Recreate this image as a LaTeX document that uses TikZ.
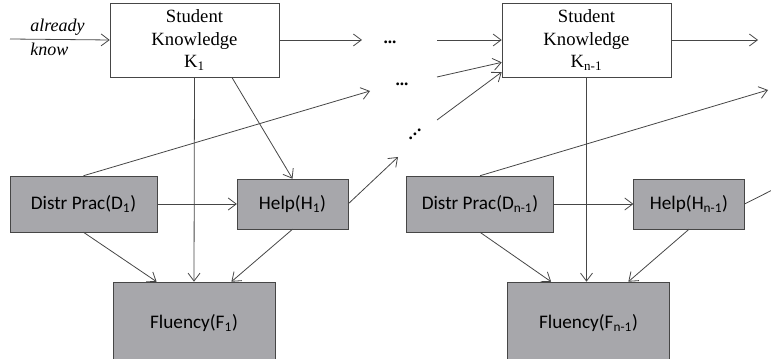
\documentclass[tikz,border=0pt]{standalone}
\usepackage{fontspec}
\setmainfont{Liberation Serif}
\newfontfamily\boxfont{Carlito}
\usetikzlibrary{arrows.meta,calc}
\definecolor{boxgray}{RGB}{167,167,171}
\definecolor{linegray}{RGB}{70,70,70}
\tikzset{%
  know/.style  = {shape=rectangle, draw=linegray, fill=white, inner sep=0pt,%
                  align=center, minimum width=126.75pt, minimum height=55.5pt,%
                  font=\fontsize{14}{17}\selectfont},%
  obs/.style   = {shape=rectangle, draw=linegray, fill=boxgray, inner sep=0pt,%
                  font=\boxfont\fontsize{14.4}{17}\selectfont},%
  prac/.style  = {obs, minimum width=110pt, minimum height=42pt},%
  helpbox/.style = {obs, minimum width=83pt, minimum height=37.5pt},%
  flu/.style   = {obs, minimum width=121.5pt, minimum height=61.5pt},%
  link/.style  = {draw=linegray, line width=0.6pt,%
                  -{Straight Barb[length=6pt,width=9pt]}},%
  note/.style  = {font=\itshape\fontsize{13.5}{15}\selectfont, inner sep=0pt, anchor=west},%
  dots/.style  = {font=\bfseries\fontsize{13}{13}\selectfont, inner sep=0pt}%
}
\newcommand{\updots}{.\raisebox{3pt}{.}\raisebox{6pt}{.}}
\begin{document}
\begin{tikzpicture}[x=0.75pt, y=-0.75pt]
  \useasboundingbox (0,0) rectangle (771,359);
  \clip (0,0) rectangle (771,359);
  % first slice
  \node[know]    (K1) at (194.5,40) {Student\\Knowledge\\K\textsubscript{1}};
  \node[prac]    (D1) at (83.5,204) {Distr Prac(D\textsubscript{1})};
  \node[helpbox] (H1) at (292.5,204) {Help(H\textsubscript{1})};
  \node[flu]     (F1) at (194,323) {Fluency(F\textsubscript{1})};
  % slice n-1
  \node[know]    (Kn) at (586.5,40) {Student\\Knowledge\\K\textsubscript{n-1}};
  \node[prac]    (Dn) at (480,204) {Distr Prac(D\textsubscript{n-1})};
  \node[helpbox] (Hn) at (689,204) {Help(H\textsubscript{n-1})};
  \node[flu]     (Fn) at (588.5,323) {Fluency(F\textsubscript{n-1})};

  \node[note] (already) at (30,27) {already};
  \node[note] (knowlbl) at (30,49) {know};

  \node[dots] (dotsA) at (390,42) {...};
  \node[dots] (dotsB) at (402,84) {...};
  \node[dots] (dotsC) at (415,134) {\updots};

  \coordinate (in)   at (10,39);
  \coordinate (outK) at (362,40);
  \coordinate (outD) at (370,91);
  \coordinate (outH) at (398,157);
  \coordinate (fromA) at (437,40);
  \coordinate (fromB) at (437,77);
  \coordinate (fromC) at (437,120);
  \coordinate (endK) at (758,40);
  \coordinate (endD) at (768,90);
  \coordinate (endH) at (800,176);

  \draw[link] (in) -- (K1.west);
  \draw[link] (K1.east) -- (outK);
  \draw[link] (D1.north) -- (outD);
  \draw[link] (H1.east) -- (outH);
  \draw[link] (K1.south) -- (F1.north);
  \draw[link] ($(K1.south west)!0.72!(K1.south east)$) -- (H1.north);
  \draw[link] (D1.east) -- (H1.west);
  \draw[link] (D1.south) -- ($(F1.north west)!0.27!(F1.north east)$);
  \draw[link] (H1.south) -- ($(F1.north west)!0.73!(F1.north east)$);

  \draw[link] (fromA) -- (Kn.west);
  \draw[link] (fromB) -- ($(Kn.north west)!0.8!(Kn.south west)$);
  \draw[link] (fromC) -- ($(Kn.north west)!0.93!(Kn.south west)$);
  \draw[link] (Kn.east) -- (endK);
  \draw[link] (Dn.north) -- (endD);
  \draw[link] (Hn.east) -- (endH);
  \draw[link] (Kn.south) -- (Kn.south |- Fn.north);
  \draw[link] (Dn.east) -- (Hn.west);
  \draw[link] (Dn.south) -- ($(Fn.north west)!0.27!(Fn.north east)$);
  \draw[link] (Hn.south) -- ($(Fn.north west)!0.745!(Fn.north east)$);
\end{tikzpicture}
\end{document}
